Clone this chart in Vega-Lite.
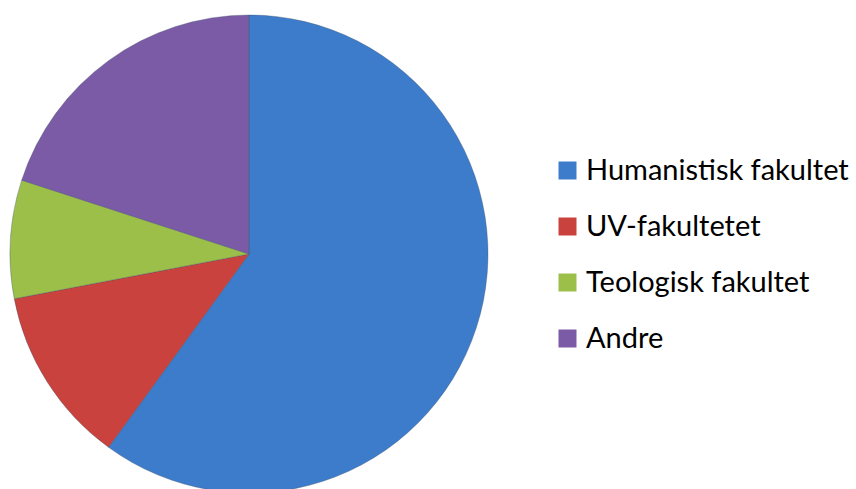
{
  "$schema": "https://vega.github.io/schema/vega-lite/v6.json",
  "width": 498,
  "height": 470,
  "autosize": {"type": "none"},
  "padding": {"left": 0, "top": 19, "right": 358, "bottom": 0},
  "background": "white",
  "data": {
    "values": [
      {"fakultet": "Humanistisk fakultet", "andel": 60, "rekkefolge": 1},
      {"fakultet": "UV-fakultetet", "andel": 12, "rekkefolge": 2},
      {"fakultet": "Teologisk fakultet", "andel": 8, "rekkefolge": 3},
      {"fakultet": "Andre", "andel": 20, "rekkefolge": 4}
    ]
  },
  "mark": {"type": "arc", "outerRadius": 239, "stroke": "#3d4f66", "strokeWidth": 0.6, "strokeOpacity": 0.6},
  "encoding": {
    "theta": {"field": "andel", "type": "quantitative", "stack": true},
    "order": {"field": "rekkefolge", "type": "quantitative"},
    "color": {
      "field": "fakultet",
      "type": "nominal",
      "scale": {
        "domain": ["Humanistisk fakultet", "UV-fakultetet", "Teologisk fakultet", "Andre"],
        "range": ["#3d7ccb", "#c9423d", "#9bbf48", "#7b5aa6"]
      },
      "legend": {
        "title": null,
        "orient": "none",
        "legendX": 553,
        "legendY": 137,
        "symbolType": "square",
        "symbolSize": 324,
        "symbolStrokeWidth": 0,
        "symbolOpacity": 1,
        "labelFont": "Lato",
        "labelFontSize": 29,
        "labelColor": "#000000",
        "labelOffset": 4,
        "rowPadding": 26,
        "labelLimit": 400
      }
    }
  }
}
